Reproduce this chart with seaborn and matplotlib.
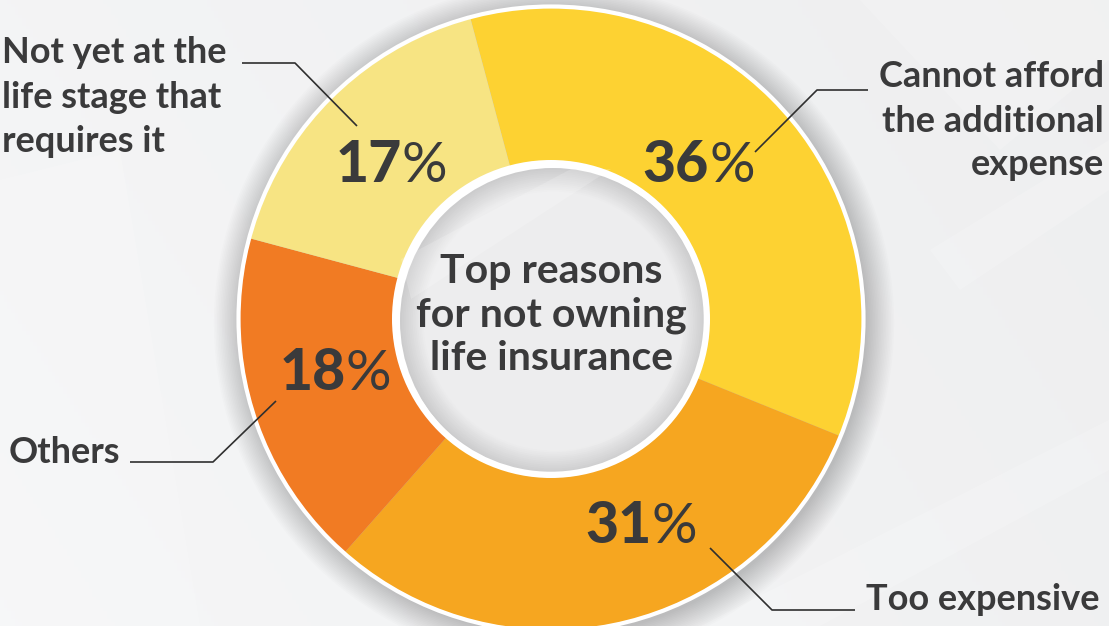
import matplotlib
matplotlib.use("Agg")
import matplotlib.pyplot as plt
import seaborn as sns
import numpy as np
from matplotlib.patches import Circle, Polygon

# ---------------- data ----------------
categories = ["Cannot afford\nthe additional\nexpense", "Too expensive", "Others",
              "Not yet at the\nlife stage that\nrequires it"]
shares = [36, 31, 18, 17]
pct_labels = ["36", "31", "18", "17"]
slice_colors = ["#FDD232", "#F6A620", "#F17B23", "#F7E483"]
center_title = ["Top reasons", "for not owning", "life insurance"]

# ---------------- style ----------------
sns.set_theme(style="white")
plt.rcParams['font.family'] = ['Lato', 'DejaVu Sans']
palette = sns.color_palette(slice_colors)
TXT = "#3a3a3b"

W, H = 1109, 626
fig = plt.figure(figsize=(W / 100, H / 100), dpi=100)
ax = fig.add_axes([0, 0, 1, 1])


def Y(y):
    return H - y


# background: soft light-gray gradient with pale diagonal streaks
xs = np.linspace(0, 1, 300)
ys = np.linspace(0, 1, 170)
gx, gy = np.meshgrid(xs, ys)
base = 0.955 - 0.022 * gx + 0.008 * gy
bg = np.dstack([base, base + 0.002, base + 0.006])
ax.imshow(np.clip(bg, 0, 1), extent=[0, W, 0, H], aspect='auto', zorder=0)
streaks = [
    [(860, 0), (1109, 0), (1109, 60), (1000, 150)],
    [(930, 250), (1109, 140), (1109, 190), (960, 290)],
    [(0, 180), (120, 150), (200, 626), (0, 626)],
    [(700, 626), (1109, 420), (1109, 470), (820, 626)],
]
for pts in streaks:
    ax.add_patch(Polygon([(x, Y(y)) for x, y in pts], closed=True,
                         facecolor="white", edgecolor="none", alpha=0.18, zorder=0.5))

cx, cy, R, r_in = 551, Y(319), 311, 158

# soft drop shadow around the ring
for k in range(18):
    ax.add_patch(Circle((cx + 3, cy - 4), R + 2 + k * 1.6, facecolor="black",
                        edgecolor="none", alpha=0.011, zorder=1))

wedges, _ = ax.pie(shares, colors=palette, startangle=105, counterclock=False,
                   center=(cx, cy), radius=R,
                   wedgeprops=dict(width=R - r_in, linewidth=0))
for w in wedges:
    w.set_zorder(2)

# white outer rim
ax.add_patch(Circle((cx, cy), R + 1.5, facecolor="none", edgecolor="white",
                    linewidth=3, zorder=3))

# inner hole with inner shadow
ax.add_patch(Circle((cx, cy), r_in + 1, facecolor="white", edgecolor="none", zorder=3))
shades = np.linspace(0.80, 0.93, 14)
for i, s in enumerate(shades):
    ax.add_patch(Circle((cx + 2, cy - 2), 153 - i * 1.8, facecolor=(s, s, s + 0.004),
                        edgecolor="none", zorder=3.1))
ax.add_patch(Circle((cx + 6, cy - 6), 126, facecolor="#eeeeee", edgecolor="none",
                    alpha=0.6, zorder=3.2))
ax.add_patch(Polygon([(cx - 150, cy + 60), (cx + 20, cy + 150), (cx + 60, cy + 150),
                      (cx - 140, cy + 20)], closed=True, facecolor="white",
                     edgecolor="none", alpha=0.18, zorder=3.3))
ax.add_patch(Circle((cx, cy), 155.5, facecolor="none", edgecolor="white",
                    linewidth=4, zorder=3.4))

# center title
for line, yb in zip(center_title, [283, 327, 370]):
    ax.text(cx, Y(yb), line, ha="center", va="baseline", fontsize=29.5,
            fontweight="bold", color=TXT, zorder=5)

# percent labels (number heavy, % regular)
pct_pos = [(708, 182), (651, 543), (345, 390), (401, 182)]
for lab, (sx, by) in zip(pct_labels, pct_pos):
    ax.text(sx + 1, Y(by), lab, ha="right", va="baseline", fontsize=41,
            fontweight="black", color=TXT, zorder=5)
    ax.text(sx + 1, Y(by), "%", ha="left", va="baseline", fontsize=41,
            fontweight="normal", color=TXT, zorder=5)

# outer category labels
lab_fs = 26
lines0 = categories[0].split("\n")
for line, yb in zip(lines0, [87, 132, 175]):
    ax.text(1104, Y(yb), line, ha="right", va="baseline", fontsize=lab_fs,
            fontweight="bold", color=TXT, zorder=5)
ax.text(1100, Y(610), categories[1], ha="right", va="baseline", fontsize=lab_fs,
        fontweight="bold", color=TXT, zorder=5)
ax.text(9, Y(463), categories[2], ha="left", va="baseline", fontsize=lab_fs,
        fontweight="bold", color=TXT, zorder=5)
lines3 = categories[3].split("\n")
for line, yb in zip(lines3, [63, 108, 152]):
    ax.text(2, Y(yb), line, ha="left", va="baseline", fontsize=lab_fs,
            fontweight="bold", color=TXT, zorder=5)

# leader lines
leaders = [
    [(868, 90), (817, 90), (755, 152)],
    [(710, 548), (772, 610), (855, 610)],
    [(130, 462), (213, 462), (276, 401)],
    [(242, 63), (295, 63), (357, 126)],
]
for pts in leaders:
    ax.plot([p[0] for p in pts], [Y(p[1]) for p in pts], color="#2f2f2f",
            linewidth=1.2, zorder=4, solid_capstyle="butt")

ax.set_xlim(0, W)
ax.set_ylim(0, H)
ax.set_aspect("auto")
ax.axis("off")
fig.savefig("out.png", dpi=100)
